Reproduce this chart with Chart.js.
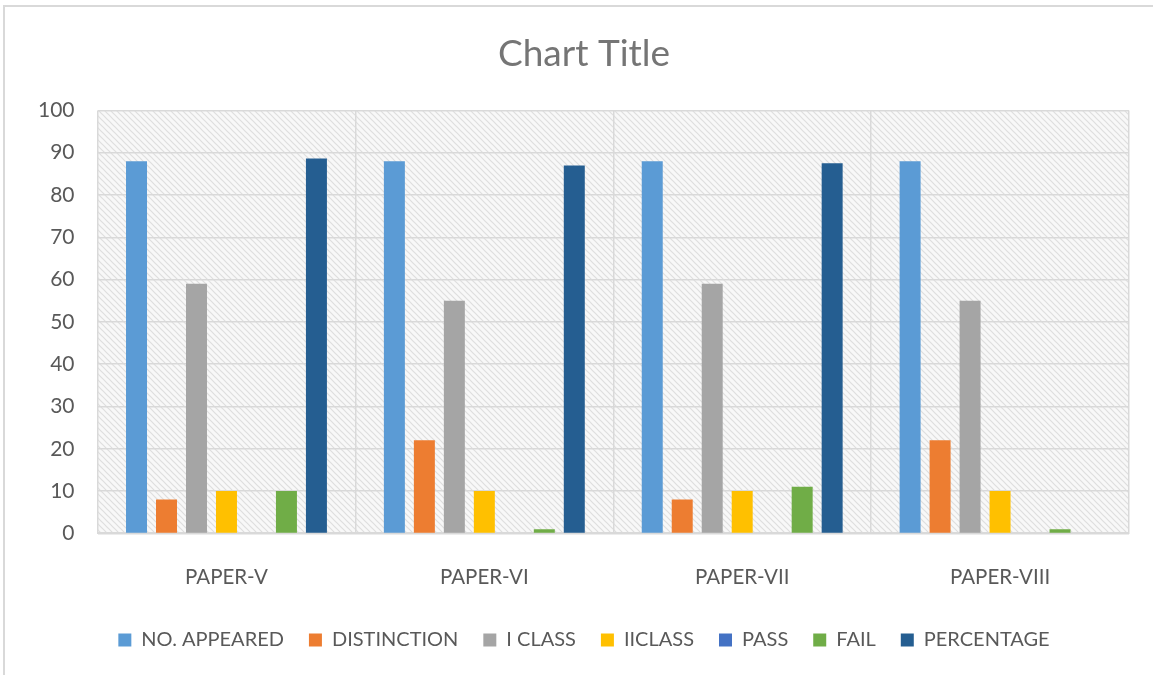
<!DOCTYPE html>
<html>
<head>
<meta charset="utf-8">
<script src="https://cdn.jsdelivr.net/npm/chart.js@4/dist/chart.umd.min.js"></script>
<style>
  html, body { margin: 0; padding: 0; background: #fff; }
  #wrap { position: absolute; left: 0; top: 0; width: 1153px; height: 675px; }
  #frame { position: absolute; left: 3px; top: 5px; width: 1200px; height: 700px;
           border-left: 2px solid #d9d9d9; border-top: 2px solid #d9d9d9; pointer-events: none; }
</style>
</head>
<body>
<div id="wrap"><canvas id="myChart" width="1153" height="675"></canvas></div>
<div id="frame"></div>
<script>
// values
var categories = ['PAPER-V', 'PAPER-VI', 'PAPER-VII', 'PAPER-VIII'];
var noAppeared = [88, 88, 88, 88];
var distinction = [8, 22, 8, 22];
var iClass = [59, 55, 59, 55];
var iiClass = [10, 10, 10, 10];
var pass = [0, 0, 0, 0];
var fail = [10, 1, 11, 1];
var percentage = [88.6, 87, 87.5, 0];
var yTicks = [0, 10, 20, 30, 40, 50, 60, 70, 80, 90, 100];

var FONT = 'Lato, "Open Sans", sans-serif';

// hatched plot background like excel's "wide downward diagonal"
function makePattern() {
    var c = document.createElement('canvas');
    c.width = 6; c.height = 6;
    var g = c.getContext('2d');
    g.fillStyle = '#f8f8f8';
    g.fillRect(0, 0, 6, 6);
    g.strokeStyle = '#dedede';
    g.lineWidth = 1.2;
    g.beginPath();
    g.moveTo(-1, -1); g.lineTo(7, 7);
    g.moveTo(-1, 5); g.lineTo(1, 7);
    g.moveTo(5, -1); g.lineTo(7, 1);
    g.stroke();
    return g.createPattern(c, 'repeat');
}

var hatch = {
    id: 'hatch',
    beforeDraw: function (chart) {
        var a = chart.chartArea, ctx = chart.ctx;
        ctx.save();
        ctx.fillStyle = makePattern();
        ctx.fillRect(a.left, a.top, a.right - a.left, a.bottom - a.top);
        ctx.restore();
    }
};

function ds(label, data, color) {
    return { label: label, data: data, backgroundColor: color, borderWidth: 0,
             barPercentage: 0.7, categoryPercentage: 0.814 };
}

const GRAPH = document.getElementById('myChart');
const barGraph = new Chart(GRAPH, {
    type: 'bar',
    data: {
        labels: categories,
        datasets: [
            ds('NO. APPEARED', noAppeared, '#5b9bd5'),
            ds('DISTINCTION', distinction, '#ed7d31'),
            ds('I CLASS', iClass, '#a5a5a5'),
            ds('IICLASS', iiClass, '#ffc000'),
            ds('PASS', pass, '#4472c4'),
            ds('FAIL', fail, '#70ad47'),
            ds('PERCENTAGE', percentage, '#255e91')
        ]
    },
    options: {
        responsive: false,
        animation: false,
        layout: { padding: { top: 32, left: 15, right: 0, bottom: 15 } },
        plugins: {
            title: {
                display: true, text: 'Chart Title', color: '#757575',
                font: { family: FONT, size: 37, weight: 'normal' },
                padding: { top: 0, bottom: 34 }
            },
            legend: {
                position: 'bottom',
                labels: {
                    color: '#595959', font: { family: FONT, size: 20 },
                    boxWidth: 13, boxHeight: 13, padding: 25
                }
            },
            tooltip: { enabled: false }
        },
        scales: {
            x: {
                grid: { color: '#d9d9d9', lineWidth: 1.5, drawTicks: false, offset: true },
                border: { color: '#d9d9d9', width: 2 },
                ticks: { color: '#595959', font: { family: FONT, size: 20.5 }, padding: 32 },
                afterFit: function (axis) { axis.height -= 17; }
            },
            y: {
                min: 0, max: 100,
                afterBuildTicks: function (axis) {
                    axis.ticks = yTicks.map(function (v) { return { value: v }; });
                },
                grid: { color: '#d9d9d9', lineWidth: 1.5, drawTicks: false },
                border: { display: false },
                ticks: { color: '#595959', font: { family: FONT, size: 21 }, padding: 23 }
            },
            // empty strip on the right so title and legend centre like the original
            yRight: {
                position: 'right',
                grid: { display: false },
                border: { display: false },
                ticks: { display: false },
                afterFit: function (axis) { axis.width = 24; }
            }
        }
    },
    plugins: [hatch]
});
</script>
</body>
</html>
